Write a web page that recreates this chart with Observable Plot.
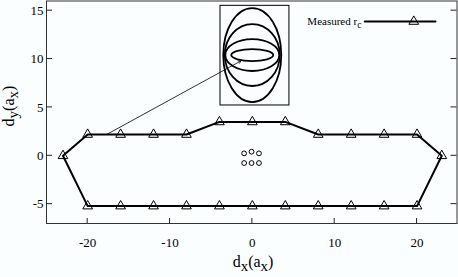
<!DOCTYPE html>
<html><head><meta charset="utf-8">
<script src="https://cdn.jsdelivr.net/npm/d3@7"></script>
<script src="https://cdn.jsdelivr.net/npm/@observablehq/plot@0.6"></script>
<style>html,body{margin:0;padding:0;background:#fbfefe} svg text{font-family:"Liberation Serif","Times New Roman",Times,"DejaVu Serif",serif !important}</style>
</head><body><div id="chart"></div>
<script>
// Measured r_c boundary (closed path)
const pathX = [-23,-20,-16,-12,-8,-4,0,4,8,12,16,20,23,20,16,12,8,4,0,-4,-8,-12,-16,-20,-23];
const pathY = [0,2.2,2.2,2.2,2.2,3.5,3.5,3.5,2.2,2.2,2.2,2.2,0,-5.2,-5.2,-5.2,-5.2,-5.2,-5.2,-5.2,-5.2,-5.2,-5.2,-5.2,0];
// central cluster of small circles
const clusterX = [-1, -0.1, 0.8, -1, -0.1, 0.8];
const clusterY = [0.25, 0.42, 0.25, -0.75, -0.75, -0.75];
// ticks
const xTicks = [-20, -10, 0, 10, 20];
const yTicks = [-5, 0, 5, 10, 15];
// inset (box and ellipses, in data units)
const insetX = [-3.87, 4.5];
const insetY = [5.2, 15.5];
const ellipseCenter = [0.05, 10.36];
const ellipseRx = [3.52, 3.34, 3.28, 2.55];
const ellipseRy = [4.86, 3.2, 1.65, 0.62];
const leaderFrom = [-17.7, 2.2];
const leaderTo = [-1.4, 9.8];
const legendLabel = "Measured r";
const legendSub = "c";

const FONT = "'Liberation Serif', 'Times New Roman', Times, 'DejaVu Serif', serif";
const points = pathX.map((x, i) => ({x, y: pathY[i]}));
const cluster = clusterX.map((x, i) => ({x, y: clusterY[i]}));

function inwardTicks(index, scales, values, dim) {
  const {x, y} = scales;
  const L = dim.marginLeft, R = dim.width - dim.marginRight, B = dim.height - dim.marginBottom;
  const g = d3.create("svg:g").attr("stroke", "#222").attr("stroke-width", 1);
  xTicks.forEach(t => g.append("line").attr("x1", x(t)).attr("x2", x(t)).attr("y1", B).attr("y2", B - 5));
  yTicks.forEach(t => {
    g.append("line").attr("x1", L).attr("x2", L + 6).attr("y1", y(t)).attr("y2", y(t));
    g.append("line").attr("x1", R).attr("x2", R - 6).attr("y1", y(t)).attr("y2", y(t));
  });
  return g.node();
}

function ellipses(index, scales) {
  const {x, y} = scales;
  const g = d3.create("svg:g").attr("fill", "none").attr("stroke", "black").attr("stroke-width", 1.8);
  const cx = x(ellipseCenter[0]), cy = y(ellipseCenter[1]);
  ellipseRx.forEach((rx, i) => {
    g.append("ellipse").attr("cx", cx).attr("cy", cy)
      .attr("rx", Math.abs(x(ellipseCenter[0] + rx) - cx))
      .attr("ry", Math.abs(y(ellipseCenter[1] + ellipseRy[i]) - cy));
  });
  return g.node();
}

function richText(parts, pos, {rotate = 0, fontSize = 15, subSize = 13, shift = 4, anchor = "middle"} = {}) {
  return (index, scales, values, dim) => {
    const [px, py] = pos(scales, dim);
    const t = d3.create("svg:text")
      .style("font-family", FONT)
      .attr("font-size", fontSize)
      .attr("text-anchor", anchor)
      .attr("fill", "black")
      .attr("transform", `translate(${px},${py}) rotate(${rotate})`);
    let cur = 0;
    parts.forEach(([s, sub]) => {
      const off = sub ? shift : 0;
      t.append("tspan").attr("dy", off - cur).attr("font-size", sub ? subSize : fontSize).text(s);
      cur = off;
    });
    return t.node();
  };
}

const plot = Plot.plot({
  width: 458, height: 277,
  marginLeft: 46, marginRight: 1.5, marginTop: 0.5, marginBottom: 54,
  x: {domain: [-25, 24.85]},
  y: {domain: [-7, 16]},
  style: {fontFamily: FONT, background: "#fbfefe", color: "black"},
  marks: [
    Plot.axisX({ticks: xTicks, tickSize: 0, tickPadding: 14, fontSize: 13, label: null, tickFormat: d => String(d)}),
    Plot.axisY({ticks: yTicks, tickSize: 0, tickPadding: 3, fontSize: 13, label: null, tickFormat: d => String(d)}),
    Plot.frame({stroke: "#333", strokeWidth: 1}),
    inwardTicks,
    Plot.rect([{x1: insetX[0], x2: insetX[1], y1: insetY[0], y2: insetY[1]}], {x1: "x1", x2: "x2", y1: "y1", y2: "y2", fill: "none", stroke: "black", strokeWidth: 1}),
    ellipses,
    Plot.arrow([{x1: leaderFrom[0], y1: leaderFrom[1], x2: leaderTo[0], y2: leaderTo[1]}], {x1: "x1", y1: "y1", x2: "x2", y2: "y2", stroke: "black", strokeWidth: 0.8, headLength: 5}),
    Plot.line(points, {x: "x", y: "y", stroke: "black", strokeWidth: 2}),
    Plot.dot(points.slice(0, -1), {x: "x", y: "y", symbol: "triangle", r: 3.6, stroke: "black", fill: "none", strokeWidth: 1}),
    Plot.dot(cluster, {x: "x", y: "y", r: 2.4, stroke: "black", fill: "none", strokeWidth: 1}),
    // legend
    Plot.line([{x: 13.65, y: 13.88}, {x: 22.24, y: 13.88}], {x: "x", y: "y", stroke: "black", strokeWidth: 2}),
    Plot.dot([{x: 19.6, y: 13.88}], {x: "x", y: "y", symbol: "triangle", r: 3.6, stroke: "black", fill: "none", strokeWidth: 1}),
    richText([[legendLabel, false], [legendSub, true]], ({x, y}) => [x(13.3), y(13.88) + 3.5], {fontSize: 11, subSize: 9.5, shift: 3, anchor: "end"}),
    // axis labels
    richText([["d", false], ["x", true], ["(a", false], ["x", true], [")", false]], (s, dim) => [253, 267], {fontSize: 16, subSize: 15, shift: 4}),
    richText([["d", false], ["y", true], ["(a", false], ["x", true], [")", false]], (s, dim) => [13.5, 106], {fontSize: 16, subSize: 15, shift: 4, rotate: -90})
  ]
});
document.getElementById("chart").appendChild(plot);
</script>
</body></html>
